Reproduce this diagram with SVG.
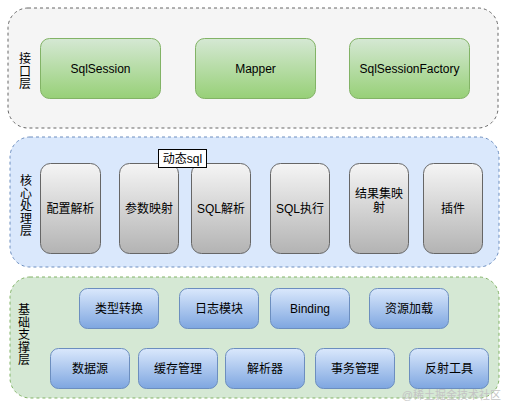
<svg xmlns="http://www.w3.org/2000/svg" width="513" height="412" viewBox="0 0 513 412">
<defs>
<linearGradient id="gGreen" x1="0" y1="0" x2="0" y2="1"><stop offset="0" stop-color="#d5e8d4"/><stop offset="1" stop-color="#97d077"/></linearGradient>
<linearGradient id="gGray" x1="0" y1="0" x2="0" y2="1"><stop offset="0" stop-color="#f5f5f5"/><stop offset="1" stop-color="#b3b3b3"/></linearGradient>
<linearGradient id="gBlue" x1="0" y1="0" x2="0" y2="1"><stop offset="0" stop-color="#dae8fc"/><stop offset="1" stop-color="#7ea6e0"/></linearGradient>
<style>
text{font-family:"Liberation Sans","Noto Sans CJK SC",sans-serif;font-size:12px;fill:#000;text-anchor:middle}
.layer{stroke-width:1;stroke-dasharray:3 3}
.green{fill:url(#gGreen);stroke:#82b366}
.gray{fill:url(#gGray);stroke:#666}
.blue{fill:url(#gBlue);stroke:#6c8ebf}
.wm{font-size:11px;fill:#c4c4c4;text-anchor:end}
</style>
</defs>
<g id="layer-interface">
<rect class="layer" x="8" y="8" width="490" height="120" rx="20" fill="#f5f5f5" stroke="#666"/>
<text x="25" y="63">接</text><text x="25" y="75.5">口</text><text x="25" y="88">层</text>
</g>
<g id="layer-core">
<rect class="layer" x="10" y="137" width="489" height="130" rx="20" fill="#dae8fc" stroke="#6c8ebf"/>
<text x="26" y="185">核</text><text x="26" y="197.5">心</text><text x="26" y="210">处</text><text x="26" y="222.5">理</text><text x="26" y="235">层</text>
</g>
<g id="layer-base">
<rect class="layer" x="10" y="277" width="489" height="121" rx="20" fill="#d5e8d4" stroke="#82b366"/>
<text x="24" y="314">基</text><text x="24" y="326.5">础</text><text x="24" y="339">支</text><text x="24" y="351.5">撑</text><text x="24" y="364">层</text>
</g>
<g id="connectors"/>
<g id="n-sqlsession"><rect class="green" x="40.5" y="38.5" width="120" height="60" rx="9"/><text x="100.5" y="72.5">SqlSession</text></g>
<g id="n-mapper"><rect class="green" x="195.5" y="38.5" width="120" height="60" rx="9"/><text x="255.5" y="72.5">Mapper</text></g>
<g id="n-sqlsessionfactory"><rect class="green" x="349.5" y="38.5" width="120" height="60" rx="9"/><text x="409.5" y="72.5">SqlSessionFactory</text></g>

<g id="n-config"><rect class="gray" x="40.5" y="163.5" width="60" height="90" rx="10"/><text x="70.5" y="212.5">配置解析</text></g>
<g id="n-param"><rect class="gray" x="119.5" y="163.5" width="59" height="90" rx="10"/><text x="149" y="212.5">参数映射</text></g>
<g id="n-sqlparse"><rect class="gray" x="191.5" y="163.5" width="59" height="90" rx="10"/><text x="221" y="212.5">SQL解析</text></g>
<g id="n-sqlexec"><rect class="gray" x="270.5" y="163.5" width="59" height="90" rx="10"/><text x="300" y="212.5">SQL执行</text></g>
<g id="n-result"><rect class="gray" x="349.5" y="163.5" width="59" height="90" rx="10"/><text x="379" y="198">结果集映</text><text x="379" y="212">射</text></g>
<g id="n-plugin"><rect class="gray" x="423.5" y="163.5" width="59" height="90" rx="10"/><text x="453" y="212.5">插件</text></g>
<g id="n-dynsql"><rect x="158.5" y="149.5" width="48" height="18" fill="#fff" stroke="#000"/><text x="182.5" y="163">动态sql</text></g>

<g id="n-typeconv"><rect class="blue" x="79.5" y="288.5" width="79" height="40" rx="8"/><text x="119" y="312.5">类型转换</text></g>
<g id="n-log"><rect class="blue" x="179.5" y="288.5" width="79" height="40" rx="8"/><text x="219" y="312.5">日志模块</text></g>
<g id="n-binding"><rect class="blue" x="270.5" y="288.5" width="79" height="40" rx="8"/><text x="310" y="312.5">Binding</text></g>
<g id="n-resource"><rect class="blue" x="369.5" y="288.5" width="79" height="40" rx="8"/><text x="409" y="312.5">资源加载</text></g>
<g id="n-datasource"><rect class="blue" x="50.5" y="348.5" width="79" height="40" rx="8"/><text x="90" y="372.5">数据源</text></g>
<g id="n-cache"><rect class="blue" x="138.5" y="348.5" width="79" height="40" rx="8"/><text x="178" y="372.5">缓存管理</text></g>
<g id="n-parser"><rect class="blue" x="225.5" y="348.5" width="79" height="40" rx="8"/><text x="265" y="372.5">解析器</text></g>
<g id="n-tx"><rect class="blue" x="315.5" y="348.5" width="79" height="40" rx="8"/><text x="355" y="372.5">事务管理</text></g>
<g id="n-reflect"><rect class="blue" x="409.5" y="348.5" width="79" height="40" rx="8"/><text x="449" y="372.5">反射工具</text></g>
<text class="wm" x="501" y="399">@稀土掘金技术社区</text>
</svg>
